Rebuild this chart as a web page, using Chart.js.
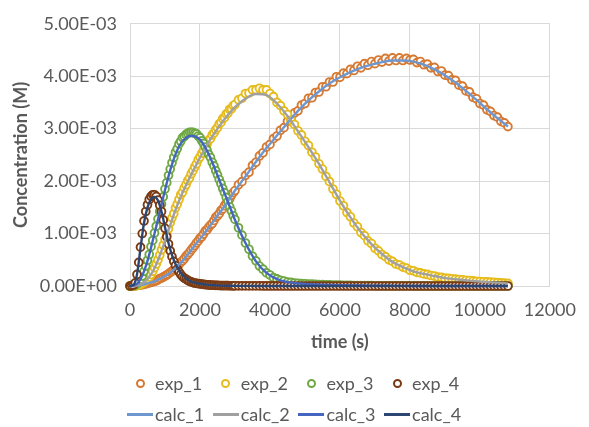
<!DOCTYPE html>
<html lang="en">
<head>
    <meta charset="UTF-8">
    <title>Concentration vs time</title>
    <script src="https://cdn.jsdelivr.net/npm/chart.js"></script>
    <style>
        body { margin: 0; background: #fff; }
        .wrap { position: relative; width: 589px; height: 427px; font-family: Lato, sans-serif; }
        #myChart { position: absolute; left: 0; top: 0; }
        .legenda { position: absolute; left: 127px; display: flex; }
        .item { width: 85.7px; display: flex; align-items: center; height: 22px; }
        .marca { position: relative; width: 28px; height: 22px; flex: none; }
        .circulo { position: absolute; left: 8.5px; top: 6.5px; width: 9px; height: 9px; box-sizing: border-box; border: 2px solid; border-radius: 50%; background: #fff; }
        .linha { position: absolute; left: 0; top: 10px; width: 26px; height: 2.5px; }
        .texto { font-size: 18px; line-height: 22px; color: #595959; white-space: nowrap; }
    </style>
</head>
<body>
<div class="wrap">
    <canvas id="myChart" width="589" height="427"></canvas>
    <div class="legenda" id="legenda1" style="top:372px"></div>
    <div class="legenda" id="legenda2" style="top:403px"></div>
</div>

<script>
// time (s) of the measured points
const tExp = [
    0, 50, 100, 150, 200, 250, 300, 350, 400, 450,
    500, 550, 600, 650, 700, 750, 800, 850, 900, 950,
    1000, 1050, 1100, 1150, 1200, 1250, 1300, 1350, 1400, 1450,
    1500, 1550, 1600, 1650, 1700, 1750, 1800, 1850, 1900, 1950,
    2000, 2050, 2100, 2150, 2200, 2250, 2300, 2350, 2400, 2450,
    2500, 2550, 2600, 2650, 2700, 2750, 2800, 2850, 2900, 2950,
    3000,
    3100, 3200, 3300, 3400, 3500, 3600, 3700, 3800, 3900, 4000,
    4100, 4200, 4300, 4400, 4500, 4600, 4700, 4800, 4900, 5000,
    5100, 5200, 5300, 5400, 5500, 5600, 5700, 5800, 5900, 6000,
    6100, 6200, 6300, 6400, 6500, 6600, 6700, 6800, 6900, 7000,
    7100, 7200, 7300, 7400, 7500, 7600, 7700, 7800, 7900, 8000,
    8100, 8200, 8300, 8400, 8500, 8600, 8700, 8800, 8900, 9000,
    9100, 9200, 9300, 9400, 9500, 9600, 9700, 9800, 9900, 10000,
    10100, 10200, 10300, 10400, 10500, 10600, 10700, 10800
];

// concentrations in mM (converted to M below)
const exp1_mM = [
    0, 0, 0, 0.005, 0.01, 0.015, 0.02, 0.025, 0.03, 0.04,
    0.05, 0.06, 0.07, 0.08, 0.09, 0.10, 0.12, 0.14, 0.15, 0.17,
    0.19, 0.21, 0.23, 0.26, 0.28, 0.31, 0.34, 0.38, 0.41, 0.45,
    0.48, 0.52, 0.57, 0.60, 0.64, 0.69, 0.73, 0.77, 0.82, 0.86,
    0.91, 0.94, 0.99, 1.05, 1.07, 1.12, 1.16, 1.19, 1.25, 1.31,
    1.34, 1.38, 1.44, 1.47, 1.53, 1.58, 1.62, 1.66, 1.73, 1.78,
    1.82,
    1.93, 1.99, 2.11, 2.17, 2.30, 2.36, 2.48, 2.54, 2.65, 2.70,
    2.81, 2.86, 2.97, 3.02, 3.14, 3.18, 3.30, 3.34, 3.45, 3.48,
    3.58, 3.59, 3.69, 3.70, 3.80, 3.80, 3.89, 3.89, 3.99, 3.98,
    4.06, 4.05, 4.13, 4.11, 4.19, 4.16, 4.24, 4.21, 4.28, 4.24,
    4.31, 4.27, 4.34, 4.29, 4.35, 4.30, 4.35, 4.30, 4.34, 4.31,
    4.32, 4.26, 4.28, 4.22, 4.23, 4.16, 4.17, 4.09, 4.10, 4.02,
    4.01, 3.93, 3.92, 3.83, 3.81, 3.72, 3.70, 3.60, 3.57, 3.48,
    3.45, 3.36, 3.33, 3.25, 3.22, 3.14, 3.11, 3.04
];
const exp2_mM = [
    0, 0, 0, 0.005, 0.01, 0.02, 0.03, 0.05, 0.07, 0.10,
    0.13, 0.17, 0.22, 0.28, 0.35, 0.42, 0.50, 0.59, 0.69, 0.78,
    0.89, 0.98, 1.09, 1.21, 1.30, 1.38, 1.49, 1.56, 1.65, 1.74,
    1.79, 1.87, 1.93, 2.01, 2.06, 2.14, 2.20, 2.27, 2.33, 2.41,
    2.46, 2.53, 2.58, 2.65, 2.70, 2.78, 2.81, 2.88, 2.92, 2.98,
    3.02, 3.09, 3.12, 3.19, 3.21, 3.28, 3.30, 3.37, 3.38, 3.44,
    3.46,
    3.55, 3.58, 3.67, 3.68, 3.74, 3.74, 3.77, 3.74, 3.74, 3.67,
    3.61, 3.50, 3.44, 3.34, 3.27, 3.16, 3.08, 2.96, 2.88, 2.76,
    2.68, 2.55, 2.46, 2.33, 2.23, 2.09, 1.99, 1.85, 1.75, 1.62,
    1.53, 1.40, 1.32, 1.20, 1.13, 1.02, 0.96, 0.86, 0.81, 0.72,
    0.67, 0.60, 0.56, 0.50, 0.47, 0.42, 0.40, 0.36, 0.34, 0.30,
    0.29, 0.26, 0.25, 0.23, 0.22, 0.20, 0.19, 0.17, 0.165, 0.15,
    0.145, 0.137, 0.13, 0.123, 0.118, 0.11, 0.104, 0.097, 0.091, 0.085,
    0.081, 0.077, 0.073, 0.069, 0.065, 0.06, 0.055, 0.05
];
const exp3_mM = [
    0, 0, 0.01, 0.02, 0.04, 0.07, 0.13, 0.19, 0.28, 0.38,
    0.49, 0.60, 0.75, 0.87, 1.01, 1.14, 1.28, 1.42, 1.56, 1.70,
    1.85, 1.97, 2.11, 2.23, 2.35, 2.45, 2.55, 2.62, 2.71, 2.76,
    2.83, 2.85, 2.89, 2.91, 2.93, 2.93, 2.93, 2.91, 2.90, 2.86,
    2.83, 2.77, 2.72, 2.65, 2.59, 2.51, 2.45, 2.36, 2.29, 2.20,
    2.12, 2.03, 1.95, 1.86, 1.78, 1.69, 1.61, 1.51, 1.43, 1.34,
    1.27,
    1.11, 0.97, 0.82, 0.70, 0.57, 0.48, 0.38, 0.32, 0.25, 0.21,
    0.16, 0.135, 0.11, 0.095, 0.075, 0.068, 0.057, 0.052, 0.045, 0.042,
    0.036, 0.034, 0.03, 0.028, 0.025, 0.023, 0.02, 0.019, 0.016, 0.015,
    0.013, 0.012, 0.011, 0.01, 0.01, 0.009, 0.008, 0.007, 0.006, 0.005,
    0.003, 0.003, 0.003, 0.003, 0.003, 0.002, 0.002, 0.002, 0.002, 0.002,
    0.001, 0.001, 0.001, 0.001, 0.001, 0, 0, 0, 0, 0,
    0, 0, 0, 0, 0, 0, 0, 0, 0, 0,
    0, 0, 0, 0, 0, 0, 0, 0
];
const exp4_mM = [
    0, 0.01, 0.02, 0.06, 0.22, 0.45, 0.74, 1.00, 1.24, 1.42,
    1.55, 1.65, 1.71, 1.74, 1.74, 1.71, 1.64, 1.54, 1.42, 1.26,
    1.10, 0.94, 0.80, 0.67, 0.56, 0.47, 0.39, 0.32, 0.27, 0.22,
    0.18, 0.15, 0.13, 0.11, 0.09, 0.08, 0.065, 0.057, 0.05, 0.045,
    0.04, 0.035, 0.03, 0.027, 0.024, 0.02, 0.018, 0.016, 0.014, 0.012,
    0.011, 0.01, 0.009, 0.008, 0.007, 0.006, 0.006, 0.005, 0.005, 0.004,
    0.004,
    0.003, 0.003, 0.002, 0.002, 0.002, 0.002, 0.002, 0.001, 0.001, 0.001,
    0.001, 0.001, 0.001, 0.001, 0.001, 0, 0, 0, 0, 0,
    0, 0, 0, 0, 0, 0, 0, 0, 0, 0,
    0, 0, 0, 0, 0, 0, 0, 0, 0, 0,
    0, 0, 0, 0, 0, 0, 0, 0, 0, 0,
    0, 0, 0, 0, 0, 0, 0, 0, 0, 0,
    0, 0, 0, 0, 0, 0, 0, 0, 0, 0,
    0, 0, 0, 0, 0, 0, 0, 0
];

// time (s) of the calculated curves
const tCalc = [
    0, 100, 200, 300, 400, 500, 600, 700, 800, 900,
    1000, 1100, 1200, 1300, 1400, 1500, 1600, 1700, 1800, 1900,
    2000, 2100, 2200, 2300, 2400, 2500, 2600, 2700, 2800, 2900,
    3000,
    3300, 3600, 3900, 4200, 4500, 4800, 5100, 5400, 5700, 6000,
    6300, 6600, 6900, 7200, 7500, 7800, 8100, 8400, 8700, 9000,
    9300, 9600, 9900, 10200, 10500, 10800
];
const calc1_mM = [
    0, 0, 0.01, 0.02, 0.03, 0.05, 0.07, 0.09, 0.12, 0.15,
    0.19, 0.23, 0.28, 0.34, 0.41, 0.48, 0.56, 0.64, 0.73, 0.82,
    0.90, 0.98, 1.07, 1.16, 1.25, 1.34, 1.43, 1.52, 1.62, 1.72,
    1.82,
    2.09, 2.37, 2.63, 2.87, 3.11, 3.34, 3.54, 3.71, 3.86, 3.98,
    4.08, 4.16, 4.22, 4.27, 4.30, 4.30, 4.28, 4.22, 4.13, 4.02,
    3.88, 3.72, 3.55, 3.37, 3.20, 3.04
];
const calc2_mM = [
    0, 0, 0.01, 0.03, 0.07, 0.13, 0.22, 0.34, 0.49, 0.67,
    0.86, 1.06, 1.26, 1.45, 1.62, 1.78, 1.92, 2.06, 2.19, 2.32,
    2.45, 2.57, 2.69, 2.80, 2.90, 3.00, 3.09, 3.18, 3.26, 3.34,
    3.41,
    3.57, 3.66, 3.64, 3.48, 3.24, 2.95, 2.65, 2.33, 1.98, 1.63,
    1.31, 1.03, 0.80, 0.61, 0.46, 0.36, 0.28, 0.23, 0.19, 0.15,
    0.13, 0.11, 0.09, 0.075, 0.065, 0.05
];
const calc3_mM = [
    0, 0.01, 0.04, 0.13, 0.28, 0.48, 0.73, 1.00, 1.27, 1.55,
    1.83, 2.09, 2.32, 2.51, 2.66, 2.76, 2.82, 2.86, 2.86, 2.84,
    2.79, 2.70, 2.58, 2.44, 2.28, 2.11, 1.94, 1.77, 1.60, 1.43,
    1.26,
    0.82, 0.47, 0.25, 0.13, 0.075, 0.05, 0.036, 0.027, 0.02, 0.015,
    0.011, 0.009, 0.006, 0.004, 0.003, 0.002, 0.001, 0.001, 0, 0,
    0, 0, 0, 0, 0, 0
];
const calc4_mM = [
    0, 0.02, 0.22, 0.72, 1.20, 1.50, 1.65, 1.70, 1.63, 1.42,
    1.12, 0.82, 0.59, 0.42, 0.30, 0.21, 0.15, 0.10, 0.075, 0.057,
    0.044, 0.034, 0.026, 0.02, 0.015, 0.011, 0.008, 0.006, 0.005, 0.004,
    0.003,
    0.002, 0.001, 0, 0, 0, 0, 0, 0, 0, 0,
    0, 0, 0, 0, 0, 0, 0, 0, 0, 0,
    0, 0, 0, 0, 0, 0
];

const expNames = ['exp_1', 'exp_2', 'exp_3', 'exp_4'];
const calcNames = ['calc_1', 'calc_2', 'calc_3', 'calc_4'];
const expColors = ['#d67a33', '#e6bb1c', '#6fa843', '#7b3a12'];
const calcColors = ['#6e97d0', '#a0a0a0', '#4466c0', '#2c4672'];

const xTicks = [0, 2000, 4000, 6000, 8000, 10000, 12000];
const yTicks = [0, 0.001, 0.002, 0.003, 0.004, 0.005];

const expSeries = [exp1_mM, exp2_mM, exp3_mM, exp4_mM];
const calcSeries = [calc1_mM, calc2_mM, calc3_mM, calc4_mM];

function pontos(tempos, valores) {
    return tempos.map((t, i) => ({ x: t, y: valores[i] / 1000 }));
}

function formatoCientifico(valor) {
    if (Math.abs(valor) < 1e-12) valor = 0;
    const partes = valor.toExponential(2).split('e');
    const expoente = parseInt(partes[1], 10);
    const sinal = expoente < 0 ? '-' : '+';
    return partes[0] + 'E' + sinal + String(Math.abs(expoente)).padStart(2, '0');
}

// montando os datasets: circulos (exp) por baixo, linhas (calc) por cima
let dados = { datasets: [] };
expSeries.forEach((valores, i) => {
    dados.datasets.push({
        label: expNames[i],
        data: pontos(tExp, valores),
        showLine: false,
        pointStyle: 'circle',
        pointRadius: 3.9,
        pointBorderWidth: 1.9,
        pointBackgroundColor: '#ffffff',
        pointBorderColor: expColors[i],
        borderColor: expColors[i],
        backgroundColor: '#ffffff',
        order: 8 - i,
        clip: 8
    });
});
calcSeries.forEach((valores, i) => {
    dados.datasets.push({
        label: calcNames[i],
        data: pontos(tCalc, valores),
        showLine: true,
        pointRadius: 0,
        borderColor: calcColors[i],
        borderWidth: 2.4,
        cubicInterpolationMode: 'monotone',
        fill: false,
        order: 4 - i,
        clip: 4
    });
});

const corTexto = '#595959';
const corGrade = '#d9d9d9';

const config = {
    type: 'scatter',
    data: dados,
    options: {
        responsive: false,
        devicePixelRatio: 1,
        animation: false,
        events: [],
        layout: { padding: { top: 16, right: 31, bottom: 70, left: 0 } },
        plugins: {
            legend: { display: false },
            tooltip: { enabled: false }
        },
        scales: {
            x: {
                type: 'linear',
                min: xTicks[0],
                max: xTicks[xTicks.length - 1],
                afterFit: (escala) => { escala.height = 71; },
                afterBuildTicks: (escala) => { escala.ticks = xTicks.map(v => ({ value: v })); },
                grid: { color: corGrade, drawTicks: false },
                border: { color: corGrade },
                ticks: {
                    padding: 13,
                    maxRotation: 0,
                    autoSkip: false,
                    color: corTexto,
                    font: { family: 'Lato', size: 18 },
                    callback: (v) => String(v)
                },
                title: {
                    display: true,
                    text: 'time (s)',
                    color: corTexto,
                    font: { family: 'Lato', size: 18, weight: 'bold' },
                    padding: { top: 0, bottom: 4 }
                }
            },
            y: {
                type: 'linear',
                min: yTicks[0],
                max: yTicks[yTicks.length - 1],
                afterFit: (escala) => { escala.width = 130; },
                afterBuildTicks: (escala) => { escala.ticks = yTicks.map(v => ({ value: v })); },
                grid: { color: corGrade, drawTicks: false },
                border: { color: corGrade },
                ticks: {
                    padding: 13,
                    color: corTexto,
                    font: { family: 'Lato', size: 18 },
                    callback: formatoCientifico
                },
                title: {
                    display: true,
                    text: 'Concentration (M)',
                    color: corTexto,
                    font: { family: 'Lato', size: 18, weight: 'bold' },
                    padding: { top: 10, bottom: 0 }
                }
            }
        }
    }
};

let myChart = new Chart(document.getElementById('myChart'), config);

// legenda em html, duas linhas como no original
function montarLegenda(idDiv, nomes, cores, tipo) {
    const div = document.getElementById(idDiv);
    nomes.forEach((nome, i) => {
        const item = document.createElement('div');
        item.className = 'item';
        const marca = document.createElement('div');
        marca.className = 'marca';
        const simbolo = document.createElement('div');
        simbolo.className = tipo;
        if (tipo === 'circulo') simbolo.style.borderColor = cores[i];
        else simbolo.style.background = cores[i];
        marca.appendChild(simbolo);
        const texto = document.createElement('span');
        texto.className = 'texto';
        texto.textContent = nome;
        item.appendChild(marca);
        item.appendChild(texto);
        div.appendChild(item);
    });
}
montarLegenda('legenda1', expNames, expColors, 'circulo');
montarLegenda('legenda2', calcNames, calcColors, 'linha');
</script>
</body>
</html>
